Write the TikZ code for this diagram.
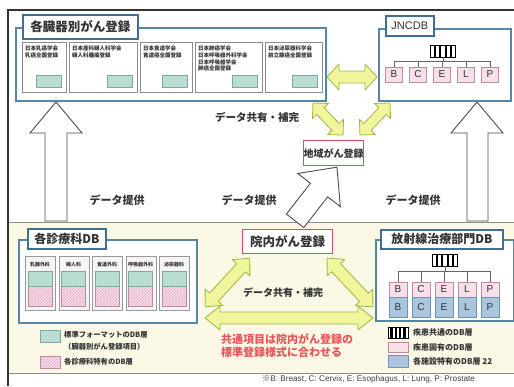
\documentclass[tikz,border=0pt]{standalone}
\usepackage{fontspec}
\setmainfont{Liberation Sans}
\newfontfamily\jp{Noto Sans CJK JP}
\usetikzlibrary{patterns}
\newcommand{\fsz}[1]{\fontsize{#1}{#1}\selectfont}
\definecolor{cpanel}{HTML}{FBF8E6}
\definecolor{boxblue}{HTML}{5685A8}
\definecolor{titleblue}{HTML}{3F6F96}
\definecolor{cteal}{HTML}{B9DCD3}
\definecolor{ctealdk}{HTML}{7FA9A0}
\definecolor{cpink}{HTML}{F8E0EA}
\definecolor{cpinkdk}{HTML}{C08AA0}
\definecolor{chatch}{HTML}{E2A2C2}
\definecolor{cblue}{HTML}{A9C6DE}
\definecolor{cbluedk}{HTML}{6E93B3}
\definecolor{cred}{HTML}{D9505E}
\definecolor{ctext}{HTML}{E8555A}
\definecolor{cyel}{HTML}{F1F59C}
\definecolor{cyeldk}{HTML}{A3B444}
\definecolor{cdark}{HTML}{333333}
\newcommand{\dblarrow}[7]{%
  \begin{scope}[shift={(#1,#2)},rotate=#3]
  \draw[yarr] (-#4,0) -- ({-#4+#7},#6) -- ({-#4+#7},#5) -- ({#4-#7},#5) -- ({#4-#7},#6) -- (#4,0)
     -- ({#4-#7},-#6) -- ({#4-#7},-#5) -- ({-#4+#7},-#5) -- ({-#4+#7},-#6) -- cycle;
  \end{scope}}
\newcommand{\subbox}[4]{%
  \node[sub,minimum width={#3-#2},minimum height=50,anchor=north west] (#1) at (#2,42) {};
  \node[small] (#1t) at ({#2+3},46) {#4};
  \node[tl,minimum width=25,minimum height=12,anchor=north east] (#1r) at ({#3-4},75) {};}
\newcommand{\barsym}[5]{%
  \node[draw=black,line width=0.6pt,fill=white,minimum width=#4,minimum height=#5,inner sep=0pt] (#1) at (#2,#3) {};
  \foreach \k in {-1.5,-0.5,0.5,1.5}
    \fill[black] ({#2+\k*#4/4.6-1.2},{#3-#5/2}) rectangle ({#2+\k*#4/4.6+1.2},{#3+#5/2});}
\begin{document}
\begin{tikzpicture}[x=1pt,y=-1pt,
  box/.style={draw=boxblue,line width=1.5pt,fill=white,inner sep=0pt},
  ttl/.style={draw=titleblue,line width=1.6pt,fill=white,inner sep=0pt,text=cdark,font=\jp\bfseries\fsz{12}},
  sub/.style={draw=black!45,line width=0.7pt,fill=white,inner sep=0pt},
  col/.style={draw=black!40,line width=0.7pt,fill=black!4,inner sep=0pt},
  tl/.style={fill=cteal,draw=ctealdk,line width=0.6pt,inner sep=0pt},
  pk/.style={fill=cpink,draw=cpinkdk,line width=0.6pt,inner sep=0pt,text=cdark,font=\fsz{10}},
  bl/.style={fill=cblue,draw=cbluedk,line width=0.6pt,inner sep=0pt,text=cdark,font=\fsz{10}},
  redbox/.style={draw=cred,line width=1.3pt,fill=white,inner sep=0pt,text=cdark,font=\jp\bfseries\fsz{12}},
  yarr/.style={fill=cyel,draw=cyeldk,line width=0.8pt,line join=round},
  warr/.style={fill=white,draw=black!70,line width=0.9pt},
  small/.style={anchor=north west,align=left,inner sep=0pt,text=cdark,font=\jp\bfseries\fontsize{5.5}{6.6}\selectfont},
  lbl/.style={inner sep=0pt,text=cdark,font=\jp\bfseries\fsz{11}},
  leg/.style={anchor=west,inner sep=0pt,text=cdark,font=\jp\bfseries\fsz{7.3}},
  tree/.style={draw=black!60,line width=0.6pt},
]
\useasboundingbox (0,0) rectangle (514,386);
% panel and frame
\fill[cpanel] (8,222) rectangle (514,373);
\draw[black!45,line width=0.8pt] (8,222) -- (514,222);
\draw[black!45,line width=0.8pt] (8,373) -- (514,373);
\draw[black!80,line width=1.3pt] (8,386) -- (8,10) -- (514,10);
% white arrows
\draw[warr] (56,102) -- (82,133) -- (67,133) -- (67,221) -- (45,221) -- (45,133) -- (30,133) -- cycle;
\draw[warr] (477,102) -- (503,133) -- (488,133) -- (488,221) -- (467,221) -- (467,133) -- (451,133) -- cycle;
\begin{scope}[shift={(316,194)},rotate=52]
\draw[warr] (-34,-11) -- (5,-11) -- (5,-27) -- (34,0) -- (5,27) -- (5,11) -- (-34,11) -- cycle;
\end{scope}
% organ-specific registries
\node[box,minimum width=310,minimum height=73,anchor=north west] (organ) at (15,27) {};
\node[ttl,font=\jp\bfseries\fsz{12.5},minimum width=115,minimum height=24,anchor=north west] (organT) at (22,14) {各臓器別がん登録};
\subbox{s1}{22}{66}{日本乳癌学会\\乳癌全国登録}
\subbox{s2}{69}{137}{日本産科婦人科学会\\婦人科腫瘍登録}
\subbox{s3}{140}{192}{日本食道学会\\食道癌全国登録}
\subbox{s4}{195}{262}{日本肺癌学会\\日本呼吸器外科学会\\日本呼吸器学会\\肺癌全国登録}
\subbox{s5}{265}{322}{日本泌尿器科学会\\前立腺癌全国登録}
% JNCDB
\node[box,minimum width=132,minimum height=72,anchor=north west] (jn) at (378,28) {};
\node[ttl,font=\fsz{11},minimum width=48,minimum height=20,anchor=north west] (jnT) at (385,15) {JNCDB};
\barsym{jbar}{443}{51}{25}{12}
\foreach \n/\x/\t in {jB/394/B,jC/418/C,jE/442/E,jL/466/L,jP/490/P}
  \node[pk,minimum width=17,minimum height=15] (\n) at (\x,74.5) {\t};
\draw[tree] (jbar.south) -- (443,62);
\draw[tree] (jB.north) -- ++(0,-5) -| (jP.north);
\foreach \n in {jC,jE,jL} \draw[tree] (\n.north) -- ++(0,-5);
% regional
\node[redbox,font=\jp\bfseries\fsz{10},minimum width=60,minimum height=25,anchor=north west] (reg) at (303,140) {地域がん登録};
\node[lbl,font=\jp\bfseries\fsz{10.5}] (share1) at (257,117) {データ共有・補完};
\node[lbl] (prov1) at (117,200) {データ提供};
\node[lbl] (prov2) at (249,200) {データ提供};
\node[lbl] (prov3) at (413,200) {データ提供};
% department DB
\node[box,minimum width=178,minimum height=83,anchor=north west] (dept) at (18,239) {};
\node[ttl,minimum width=78,minimum height=20,anchor=north west] (deptT) at (27,228) {各診療科DB};
\foreach \i/\t in {0/乳腺外科,1/婦人科,2/食道外科,3/呼吸器外科,4/泌尿器科} {
  \node[col,minimum width=30,minimum height=54,anchor=north west] (c\i) at ({25+33.5*\i},256) {};
  \node[inner sep=0pt,text=cdark,font=\jp\bfseries\fsz{5}] (c\i t) at ({40+33.5*\i},264.5) {\t};
  \fill[cpink] ({28+33.5*\i},286) rectangle ({52+33.5*\i},306);
  \fill[pattern=north east lines,pattern color=chatch] ({28+33.5*\i},286) rectangle ({52+33.5*\i},306);
  \draw[cpinkdk,line width=0.5pt] ({28+33.5*\i},286) rectangle ({52+33.5*\i},306);
  \draw[tl] ({28+33.5*\i},271) rectangle ({52+33.5*\i},286);
}
\node[tl,minimum width=20,minimum height=12,anchor=north west] (lg1) at (40,330) {};
\node[leg] (lg1t) at (64,334.5) {標準フォーマットのDB層};
\node[leg] (lg1u) at (64,346.5) {（臓器別がん登録項目）};
\fill[cpink] (40,356) rectangle (60,368);
\fill[pattern=north east lines,pattern color=chatch] (40,356) rectangle (60,368);
\draw[cpinkdk,line width=0.5pt] (40,356) rectangle (60,368);
\node[leg] (lg2t) at (64,362) {各診療科特有のDB層};
% hospital registry
\node[redbox,font=\jp\bfseries\fsz{12.5},minimum width=90,minimum height=24,anchor=north west] (hosp) at (242,229) {院内がん登録};
\node[lbl,font=\jp\bfseries\fsz{10}] (share2) at (283,293) {データ共有・補完};
\node[anchor=north west,align=left,inner sep=0pt,text=ctext,font=\jp\bfseries\fontsize{11}{13}\selectfont] (note) at (221,333.5) {共通項目は院内がん登録の\\標準登録様式に合わせる};
% radiotherapy DB
\node[box,minimum width=138,minimum height=81,anchor=north west] (rad) at (375,239) {};
\node[ttl,minimum width=122,minimum height=19,anchor=north west] (radT) at (380,229) {放射線治療部門DB};
\barsym{rbar}{445}{260}{25}{12}
\foreach \n/\x/\t in {rB/398/B,rC/421/C,rE/444/E,rL/467/L,rP/490/P} {
  \node[pk,minimum width=18,minimum height=15] (\n) at (\x,289.5) {\t};
  \node[bl,minimum width=18,minimum height=20] (\n2) at (\x,307) {\t};
}
\draw[tree] (rbar.south) -- (445,272);
\draw[tree] (rB.north) -- ++(0,-10) -| (rP.north);
\foreach \n in {rC,rE,rL} \draw[tree] (\n.north) -- ++(0,-10);
% right legend
\barsym{lbar}{398}{332.5}{20}{11}
\node[pk,minimum width=20,minimum height=10,anchor=north west] (lpk) at (388,342) {};
\node[bl,minimum width=20,minimum height=12,anchor=north west] (lbl) at (388,355) {};
\node[leg,font=\jp\bfseries\fsz{8}] (lbart) at (413,332.5) {疾患共通のDB層};
\node[leg,font=\jp\bfseries\fsz{8}] (lpkt) at (413,347) {疾患固有のDB層};
\node[leg,font=\jp\bfseries\fsz{8}] (lblt) at (413,361) {各施設特有のDB層 22};
% yellow arrows
\dblarrow{352}{77}{0}{25}{6}{13}{12}
\dblarrow{328}{119}{-46.8}{22}{5}{11}{11}
\dblarrow{375}{119}{46.8}{22}{5}{11}{11}
\dblarrow{227.5}{282.5}{47.4}{33}{6}{12}{13}
\dblarrow{350}{282.5}{-46.8}{33.5}{6}{12}{13}
\dblarrow{289}{318}{0}{84}{6}{12}{15}
% footnote
\node[anchor=west,inner sep=0pt,text=black!75,font=\fsz{8.2}] (foot) at (262,379.5) {{\jp ※}B: Breast, C: Cervix, E: Esophagus, L: Lung, P: Prostate};
\end{tikzpicture}
\end{document}
